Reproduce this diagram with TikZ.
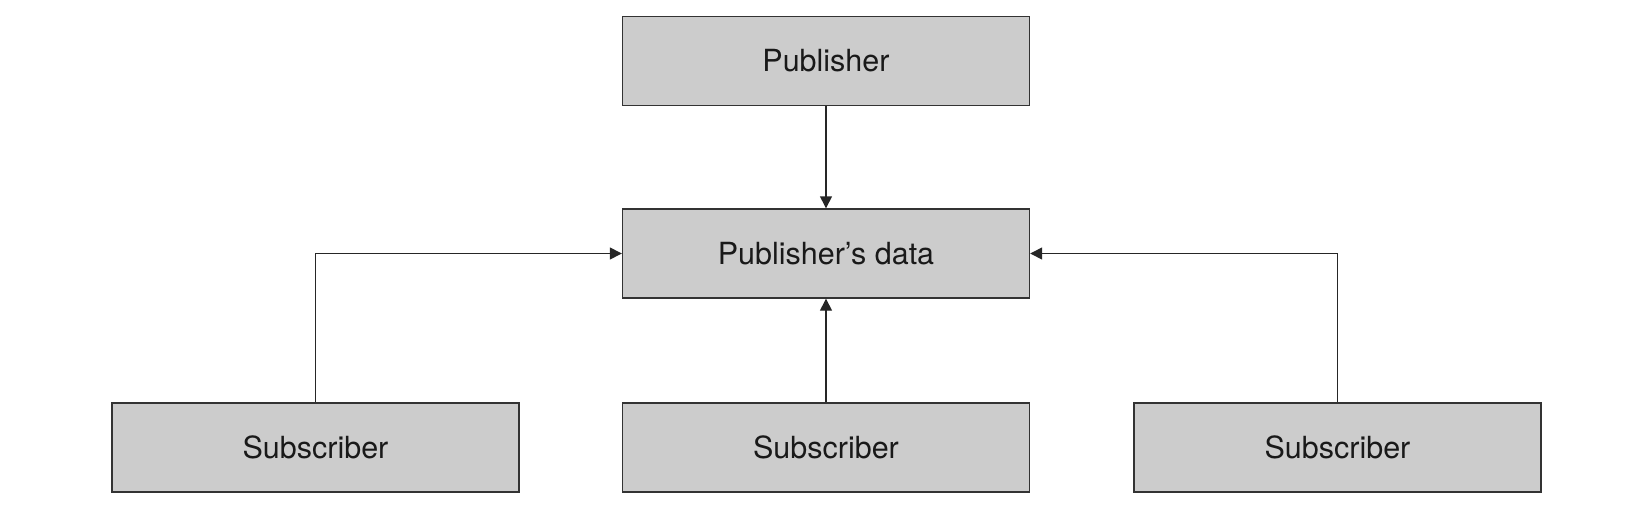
\documentclass[tikz,border=0pt]{standalone}
\usepackage{fontspec}
\setmainfont{TeX Gyre Heros}
\usetikzlibrary{arrows.meta}
\definecolor{boxfill}{HTML}{CCCCCC}
\definecolor{boxline}{HTML}{333333}
\tikzset{
  block/.style={draw=boxline, fill=boxfill, line width=1.4pt,
    minimum width=407pt, minimum height=89pt, inner sep=0pt,
    font=\fontsize{30.5}{36}\selectfont, text=black!90},
  link/.style={draw=black!85, line width=1.4pt,
    -{Triangle[length=12pt,width=12pt]}}
}
\begin{document}
\begin{tikzpicture}[x=1pt,y=-1pt]
       \useasboundingbox (0,0) rectangle (1650,509);
       \node[block] (pub) at (826,61) {Publisher};
       \node[block] (data) at (826,253.5) {Publisher’s data};
       \node[block] (sub1) at (315.5,447.5) {Subscriber};
       \node[block] (sub2) at (826,447.5) {Subscriber};
       \node[block] (sub3) at (1337.5,447.5) {Subscriber};
       \draw [link] (pub) -- (data);
       \draw [link] (sub2) -- (data);
       \draw [link] (sub1.north) |- (data.west);
       \draw [link] (sub3.north) |- (data.east);
     \end{tikzpicture}
\end{document}
